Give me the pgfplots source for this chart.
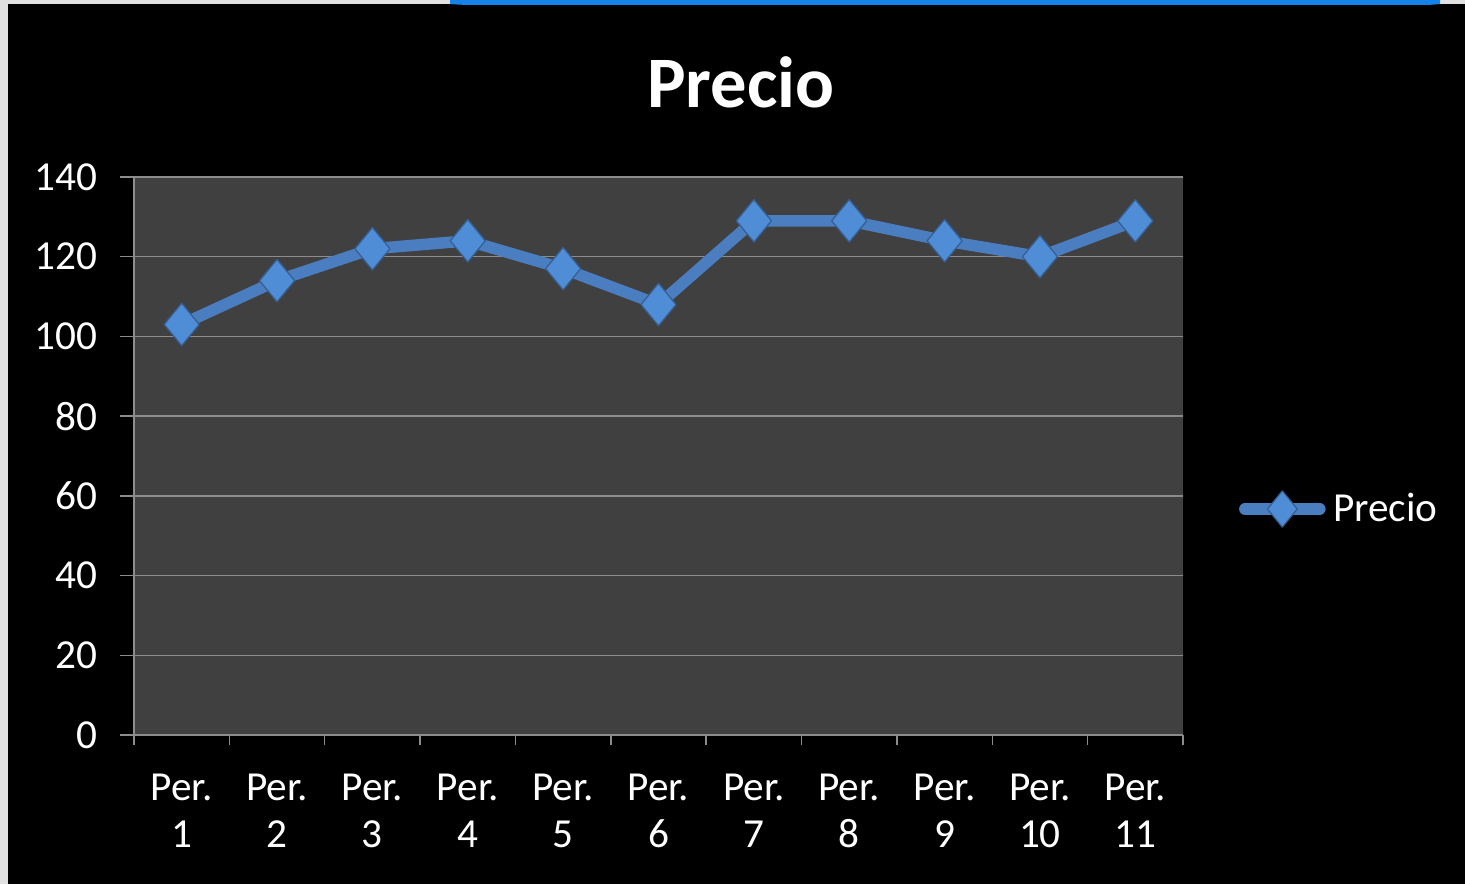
\documentclass[border=0pt]{standalone}
\usepackage{fontspec}
\setmainfont{Carlito}
\usepackage{pgfplots}
\pgfplotsset{compat=1.18}
\definecolor{plotbg}{RGB}{64,64,64}
\definecolor{serieblue}{RGB}{74,126,193}
\definecolor{markblue}{RGB}{79,141,215}
\definecolor{gridgray}{RGB}{140,140,140}
\definecolor{framegray}{RGB}{225,225,225}
\definecolor{arcblue}{RGB}{20,130,230}
\begin{document}
\begin{tikzpicture}
\useasboundingbox (0,0) rectangle (586pt,353.6pt);
\fill[framegray] (0,0) rectangle (586pt,353.6pt);
\fill[black] (3.2pt,0) rectangle (586pt,352pt);
\fill[arcblue] (180pt,352pt) .. controls (185pt,351.6pt) .. (200pt,351.6pt) -- (560pt,351.6pt) .. controls (572pt,351.6pt) .. (576pt,352pt) -- (576pt,353.6pt) -- (180pt,353.6pt) -- cycle;
\node[font=\bfseries\fontsize{29}{34}\selectfont, text=white] at (296.4pt,320.8pt) {Precio};
\begin{axis}[
  at={(53.6pt,59.6pt)}, anchor=south west,
  scale only axis, width=419.6pt, height=223.2pt,
  xmin=0.5, xmax=11.5, ymin=0, ymax=140,
  ytick={0,20,...,140},
  xtick={1,...,11},
  xticklabels={Per.\\1,Per.\\2,Per.\\3,Per.\\4,Per.\\5,Per.\\6,Per.\\7,Per.\\8,Per.\\9,Per.\\10,Per.\\11},
  minor xtick={0.5,1.5,...,11.5},
  major x tick style={draw=none},
  minor x tick style={gridgray, line width=0.6pt},
  y tick style={gridgray, line width=0.6pt},
  tick align=outside,
  minor tick length=4pt,
  major tick length=5.6pt,
  axis x line*=bottom, axis y line*=left,
  axis line style={gridgray, line width=0.6pt, -},
  axis background/.style={fill=plotbg},
  ymajorgrids,
  grid style={gridgray, line width=0.6pt},
  /pgf/number format/assume math mode=true,
  x tick label style={align=center, font=\fontsize{16.5}{18.8}\selectfont, text=white, inner sep=0pt, yshift=-10pt},
  y tick label style={font=\fontsize{16.5}{20}\selectfont, text=white, inner sep=0pt, xshift=-9pt},
  legend style={at={(1.053,0.405)}, anchor=west, draw=none, fill=black, text=white, font=\fontsize{16.5}{20}\selectfont, inner sep=0pt, cells={anchor=west}, nodes={inner xsep=3pt}},
  legend image code/.code={\draw[mark repeat=2,mark phase=2,#1, line cap=round, every mark/.append style={scale=0.85}] plot coordinates {(3pt,0pt) (18pt,0pt) (33pt,0pt)};},
  clip=false,
]
\addplot[serieblue, line width=4.6pt, line join=round, mark=diamond*, mark size=8.5pt,
  mark options={fill=markblue, draw=serieblue!75!black, line width=0.5pt, xscale=1.1}]
  coordinates {(1,103) (2,114) (3,122) (4,124) (5,117) (6,108) (7,129) (8,129) (9,124) (10,120) (11,129)};
\addlegendentry{Precio}
\end{axis}
\end{tikzpicture}
\end{document}
